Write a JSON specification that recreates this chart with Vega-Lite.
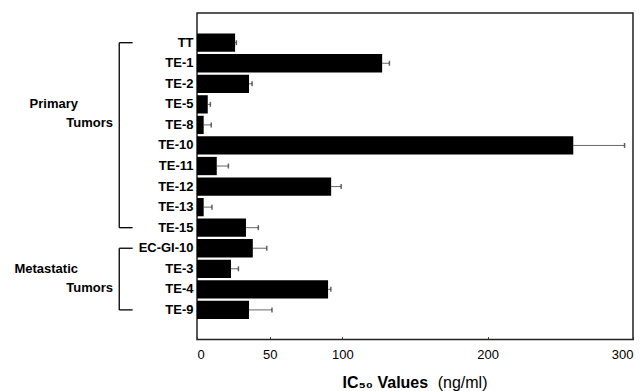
{
  "$schema": "https://vega.github.io/schema/vega-lite/v6.json",
  "width": 436,
  "height": 326.6,
  "autosize": {"type": "none"},
  "padding": {"left": 197, "top": 13, "right": 9, "bottom": 51},
  "view": {"stroke": "#222", "strokeWidth": 1.5},
  "config": {
    "font": "Liberation Sans",
    "view": {"stroke": "#222", "strokeWidth": 1.5},
    "axisY": {"domain": false, "ticks": false, "labelPadding": 4, "labelFontSize": 13, "labelFontWeight": "bold", "labelColor": "#000", "grid": false},
    "axisX": {"grid": false, "domain": false}
  },
  "data": {
    "values": [
      {"cell": "TT", "ic50": 26.2, "upper": 27.1},
      {"cell": "TE-1", "ic50": 127.4, "upper": 132.4},
      {"cell": "TE-2", "ic50": 35.8, "upper": 37.9},
      {"cell": "TE-5", "ic50": 7.4, "upper": 9.2},
      {"cell": "TE-8", "ic50": 4.6, "upper": 9.8},
      {"cell": "TE-10", "ic50": 258.9, "upper": 294.2},
      {"cell": "TE-11", "ic50": 13.6, "upper": 21.6},
      {"cell": "TE-12", "ic50": 92.3, "upper": 99.2},
      {"cell": "TE-13", "ic50": 4.6, "upper": 10.3},
      {"cell": "TE-15", "ic50": 33.7, "upper": 42.2},
      {"cell": "EC-GI-10", "ic50": 38.4, "upper": 48.0},
      {"cell": "TE-3", "ic50": 23.4, "upper": 28.5},
      {"cell": "TE-4", "ic50": 90.2, "upper": 92.1},
      {"cell": "TE-9", "ic50": 35.8, "upper": 51.6}
    ]
  },
  "encoding": {
    "y": {
      "field": "cell",
      "type": "nominal",
      "title": null,
      "scale": {
        "domain": ["TT", "TE-1", "TE-2", "TE-5", "TE-8", "TE-10", "TE-11", "TE-12", "TE-13", "TE-15", "EC-GI-10", "TE-3", "TE-4", "TE-9"],
        "paddingInner": 0.11,
        "paddingOuter": 1.1
      }
    }
  },
  "layer": [
    {
      "mark": {"type": "rule", "stroke": "#666", "strokeWidth": 1},
      "encoding": {
        "x": {
          "field": "ic50",
          "type": "quantitative",
          "scale": {"domain": [0, 300], "nice": false, "zero": true},
          "axis": {
            "orient": "bottom",
            "labels": false,
            "ticks": true,
            "tickSize": -3,
            "tickColor": "#333",
            "tickWidth": 1,
            "values": [0, 50, 100, 200, 300],
            "title": "(ng/ml)",
            "titleFontSize": 16,
            "titleFontWeight": "normal",
            "titleColor": "#000",
            "titleAlign": "right",
            "titleAnchor": null,
            "titleBaseline": "alphabetic",
            "titleX": 290,
            "titleY": 47.5
          }
        },
        "x2": {"field": "upper"}
      }
    },
    {
      "mark": {"type": "bar", "color": "#000"},
      "encoding": {
        "x": {
          "field": "ic50",
          "type": "quantitative",
          "axis": {
            "orient": "bottom",
            "ticks": false,
            "values": [0, 50, 100, 200, 300],
            "labelFontSize": 13,
            "labelColor": "#000",
            "labelPadding": 9,
            "title": "IC₅₀ Values",
            "titleFontSize": 16,
            "titleFontWeight": "bold",
            "titleColor": "#000",
            "titleAlign": "left",
            "titleAnchor": null,
            "titleBaseline": "alphabetic",
            "titleX": 145,
            "titleY": 47.5
          }
        }
      }
    },
    {
      "mark": {"type": "tick", "color": "#222", "size": 5, "thickness": 1.5},
      "encoding": {
        "x": {"field": "upper", "type": "quantitative", "axis": null}
      }
    },
    {
      "data": {"values": [{"start": "TT", "end": "TE-15"}, {"start": "EC-GI-10", "end": "TE-9"}]},
      "mark": {"type": "rule", "color": "#000", "strokeWidth": 1.3},
      "encoding": {
        "y": {"field": "start", "type": "nominal", "title": null},
        "y2": {"field": "end"},
        "x": {"datum": -53.5, "type": "quantitative", "axis": null}
      }
    },
    {
      "data": {"values": [{"cell": "TT"}, {"cell": "TE-15"}, {"cell": "EC-GI-10"}, {"cell": "TE-9"}]},
      "mark": {"type": "rule", "color": "#000", "strokeWidth": 1.3},
      "encoding": {
        "x": {"datum": -53.5, "type": "quantitative", "axis": null},
        "x2": {"datum": -44.3}
      }
    },
    {
      "data": {"values": [{"cell": "TE-5", "label": "Primary"}, {"cell": "TE-3", "label": "Metastatic"}]},
      "mark": {"type": "text", "align": "right", "baseline": "middle", "fontSize": 13, "fontWeight": "bold", "color": "#000"},
      "encoding": {
        "x": {"datum": -81.9, "type": "quantitative", "axis": null},
        "text": {"field": "label"}
      }
    },
    {
      "data": {"values": [{"cell": "TE-8", "label": "Tumors"}, {"cell": "TE-4", "label": "Tumors"}]},
      "mark": {"type": "text", "align": "right", "baseline": "middle", "fontSize": 13, "fontWeight": "bold", "color": "#000", "dy": -1.5},
      "encoding": {
        "x": {"datum": -57.8, "type": "quantitative", "axis": null},
        "text": {"field": "label"}
      }
    }
  ],
  "resolve": {"axis": {"x": "independent"}}
}
